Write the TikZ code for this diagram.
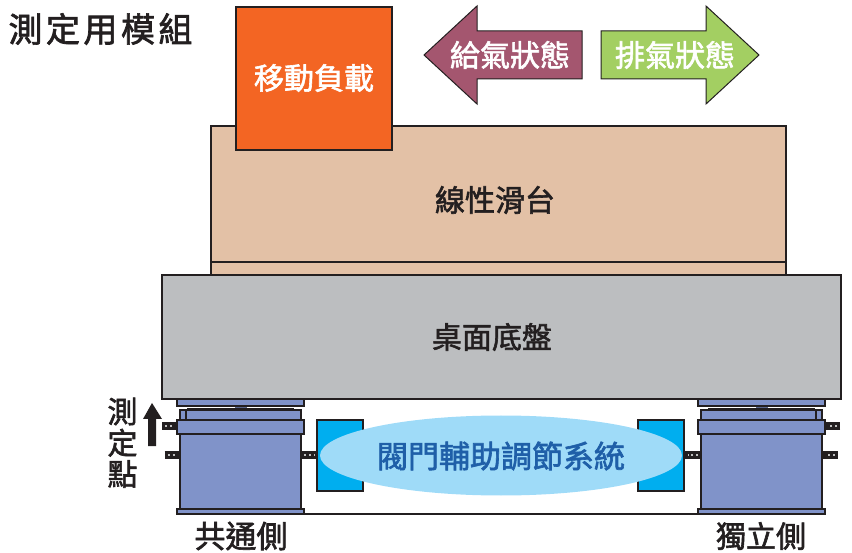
\documentclass[tikz,border=0pt]{standalone}
\usepackage{fontspec}
\newfontfamily\cjk[FakeBold=2]{Noto Sans CJK TC}
\definecolor{loadorange}{HTML}{F36523}
\definecolor{slidetan}{HTML}{E3C1A6}
\definecolor{basegray}{HTML}{BCBEC0}
\definecolor{unitblue}{HTML}{8093C9}
\definecolor{valveblue}{HTML}{00AEEF}
\definecolor{ellipseblue}{HTML}{9FDBF8}
\definecolor{valvetextblue}{HTML}{1F5FA8}
\definecolor{supplyred}{HTML}{A4566F}
\definecolor{exhaustgreen}{HTML}{A3CF62}
\definecolor{inkblack}{HTML}{231F20}
\tikzset{
  part/.style={draw=inkblack,line width=1.8pt},
  darktext/.style={font=\cjk\fontsize{#1}{#1}\selectfont,text=inkblack,inner sep=0pt},
  whitetext/.style={font=\cjk\fontsize{#1}{#1}\selectfont,text=white,inner sep=0pt},
  arrowpart/.style={draw=inkblack,line width=1pt},
}
\newcommand{\fitting}[3]{% start x, y, length
  \draw[inkblack,line width=8pt] (#1,#2) -- ++(#3,0);
  \draw[white!75!black,line width=2pt,dash pattern=on 2pt off 3pt] (#1+3,#2) -- ++(#3-6,0);
}
\begin{document}
\begin{tikzpicture}[x=1pt,y=-1pt]
  \useasboundingbox (0,0) rectangle (852,553);
  \draw[part,line width=1.5pt] (240,514) -- (762,514); % Floor line

  \foreach \cx/\s in {240.5/1,761.5/-1} {
    \begin{scope}[shift={(\cx,0)},xscale=\s]
      \fitting{-78.5}{426}{15}
      \fitting{-76}{455}{15.5}
      \fitting{60.5}{455}{16.5}
      \draw[part,fill=unitblue] (-60.5,434) rectangle (60.5,509); % Body
      \draw[part,fill=unitblue] (-63.5,509) rectangle (63.5,514); % Foot
      \draw[part,fill=unitblue] (-60.5,410) rectangle (60.5,420);
      \draw[part] (-54.5,410) -- (-54.5,420);
      \draw[part,fill=unitblue] (-63.5,420) rectangle (63.5,434); % Collar
      \draw[inkblack,line width=2.5pt] (-53.5,409) -- (53.5,409);
      \fill[unitblue!70!black] (-6,405) rectangle (6,408);
      \draw[part,fill=unitblue] (-63.5,399) rectangle (63.5,406); % Top plate
    \end{scope}
  }

  \draw[part,fill=slidetan] (211,126) rectangle (786,262);
  \draw[part,fill=slidetan] (211,262) rectangle (786,275);
  \draw[part,fill=loadorange] (236,7) rectangle (392,150);
  \draw[part,fill=basegray] (162,275) rectangle (841,399);

  \draw[part,fill=valveblue] (317,420) rectangle (363,491);
  \draw[part,fill=valveblue] (638,420) rectangle (684,491);
  \fill[ellipseblue] (501,455.5) ellipse [x radius=181,y radius=40];

  % Supply and exhaust arrows
  \draw[arrowpart,fill=supplyred] (424,55) -- (477,6) -- (477,31) -- (582,31) -- (582,79) -- (477,79) -- (477,104) -- cycle;
  \draw[arrowpart,fill=exhaustgreen] (759,55) -- (706,6) -- (706,31) -- (601,31) -- (601,79) -- (706,79) -- (706,104) -- cycle;

  % Measuring point arrow
  \fill[inkblack] (152,403) -- (162,419) -- (156,419) -- (156,446) -- (148,446) -- (148,419) -- (143,419) -- cycle;

  \node[darktext=34] (title) at (100.5,29) {測\kern3.5pt 定\kern3.5pt 用\kern3.5pt 模\kern3.5pt 組};
  \node[whitetext=30] (loadtext) at (314,78) {移動負載};
  \node[whitetext=30] (supplytext) at (510,55) {給氣狀態};
  \node[whitetext=30] (exhausttext) at (675,55) {排氣狀態};
  \node[darktext=30] (slidetext) at (495,200) {線性滑台};
  \node[darktext=30] (basetext) at (492,337) {桌面底盤};
  \node[darktext=31,text=valvetextblue] (valvetext) at (501,456) {閥門輔助調節系統};
  \node[darktext=30] (pointtext) at (122.5,446) {\begin{tabular}{@{}c@{}}測\\[-3pt]定\\[-3pt]點\end{tabular}};
  \node[darktext=31] (commontext) at (241,536) {共通側};
  \node[darktext=30] (independenttext) at (761,536) {獨立側};
\end{tikzpicture}
\end{document}
